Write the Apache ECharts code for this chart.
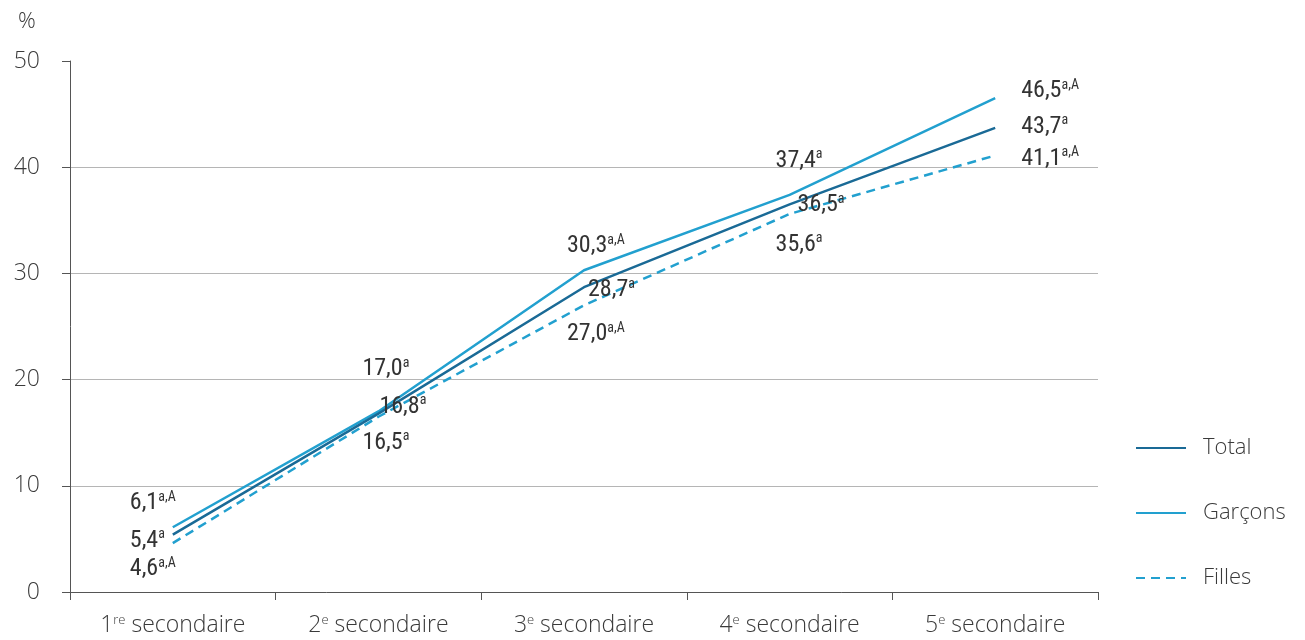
<!DOCTYPE html>
<html>
<head>
<meta charset="utf-8">
<script src="https://cdn.jsdelivr.net/npm/echarts@6/dist/echarts.min.js"></script>
<style>html,body{margin:0;padding:0;background:#fff}#c{width:1305px;height:640px}</style>
</head>
<body>
<div id="c"></div>
<script>
// ---- data ----
const categories = ['1re secondaire', '2e secondaire', '3e secondaire', '4e secondaire', '5e secondaire'];
const seriesNames = ['Total', 'Garçons', 'Filles'];
const totalValues = [5.4, 16.8, 28.7, 36.5, 43.7];
const garconsValues = [6.1, 17.0, 30.3, 37.4, 46.5];
const fillesValues = [4.6, 16.5, 27.0, 35.6, 41.1];
const totalNotes = ['a', 'a', 'a', 'a', 'a'];
const garconsNotes = ['a,A', 'a', 'a,A', 'a', 'a,A'];
const fillesNotes = ['a,A', 'a', 'a,A', 'a', 'a,A'];
const yTicks = [0, 10, 20, 30, 40, 50];

// ---- layout (label offsets from each point, px), indexed by series order ----
const labelOffsets = [
  [[-43, 6], [1, -7], [4, 3], [8, 1], [26, -1]],        // Total
  [[-43, -24], [-16, -42], [-17, -24], [-14, -34], [26, -7]], // Garçons
  [[-43, 26], [-16, 26], [-17, 29], [-14, 31], [26, 3]]    // Filles
];

const labelFont = "Roboto, 'Liberation Sans Narrow', sans-serif";
const labelWeight = 'normal condensed';
const axisFont = "'Open Sans', 'Liberation Sans', Arial, sans-serif";
const textColor = '#3a3a3a';

function fmtNum(v) { return v.toFixed(1).replace('.', ','); }

function makeSeries(name, values, notes, color, dashed) {
  return {
    name: name,
    type: 'line',
    symbol: 'circle',
    symbolSize: 2,
    showSymbol: true,
    color: color,
    itemStyle: { color: 'rgba(0,0,0,0)', opacity: 0 },
    lineStyle: { color: color, width: 2.5, type: dashed ? [9, 6] : 'solid' },
    z: name === 'Total' ? 3 : 2,
    data: values.map((v, i) => ({
      value: v,
      label: { formatter: '{v|' + fmtNum(v) + '}{s|' + notes[i] + '}' }
    })),
    label: {
      show: true,
      opacity: 1,
      position: 'inside',
      align: 'left',
      verticalAlign: 'middle',
      color: '#333',
      rich: {
        v: { fontFamily: labelFont, fontWeight: labelWeight, fontSize: 24, color: '#333', lineHeight: 26 },
        s: { fontFamily: labelFont, fontWeight: labelWeight, fontSize: 14, color: '#333', padding: [0, 0, 12, 0] }
      }
    },
    labelLayout: function (p) {
      const o = labelOffsets[p.seriesIndex][p.dataIndex];
      return { dx: o[0], dy: o[1], hideOverlap: false };
    },
    emphasis: { disabled: true },
    animation: false
  };
}

const chart = echarts.init(document.getElementById('c'), null, { renderer: 'canvas' });
chart.setOption({
  animation: false,
  title: { text: '%', left: 13, top: 6, textStyle: { fontFamily: axisFont, fontSize: 22, fontWeight: 300, color: textColor } },
  grid: { left: 70, right: 207, top: 61, bottom: 48, containLabel: false },
  legend: {
    orient: 'vertical',
    left: 1135,
    top: 436,
    padding: 0,
    itemWidth: 50,
    itemHeight: 14,
    itemGap: 41,
    data: seriesNames,
    itemStyle: { opacity: 0 },
    textStyle: { fontFamily: axisFont, fontSize: 22, fontWeight: 300, lineHeight: 24, color: textColor, padding: [0, 0, 0, 12] }
  },
  xAxis: {
    type: 'category',
    data: categories,
    boundaryGap: true,
    axisLine: { lineStyle: { color: '#555', width: 1 } },
    axisTick: { show: true, length: 8, lineStyle: { color: '#555' } },
    axisLabel: {
      margin: 22,
      formatter: function (val) {
        const m = val.match(/^(\d+)(re|e) (.*)$/);
        return '{n|' + m[1] + '}{s|' + m[2] + '}{n| ' + m[3] + '}';
      },
      rich: {
        n: { fontFamily: axisFont, fontSize: 23, fontWeight: 300, color: textColor },
        s: { fontFamily: axisFont, fontSize: 13, fontWeight: 300, color: textColor, padding: [0, 0, 10, 0] }
      }
    },
    splitLine: { show: false }
  },
  yAxis: {
    type: 'value',
    min: yTicks[0],
    max: yTicks[yTicks.length - 1],
    interval: yTicks[1] - yTicks[0],
    axisLine: { show: true, lineStyle: { color: '#555', width: 1 } },
    axisTick: { show: true, length: 8, lineStyle: { color: '#555' } },
    axisLabel: { margin: 30, fontFamily: axisFont, fontSize: 23, fontWeight: 300, color: textColor },
    splitLine: { show: true, showMinLine: false, showMaxLine: false, lineStyle: { color: '#b5b5b5', width: 1 } }
  },
  series: [
    makeSeries('Total', totalValues, totalNotes, '#1a6a96', false),
    makeSeries('Garçons', garconsValues, garconsNotes, '#22a0cf', false),
    makeSeries('Filles', fillesValues, fillesNotes, '#22a0cf', true)
  ]
});
</script>
</body>
</html>
